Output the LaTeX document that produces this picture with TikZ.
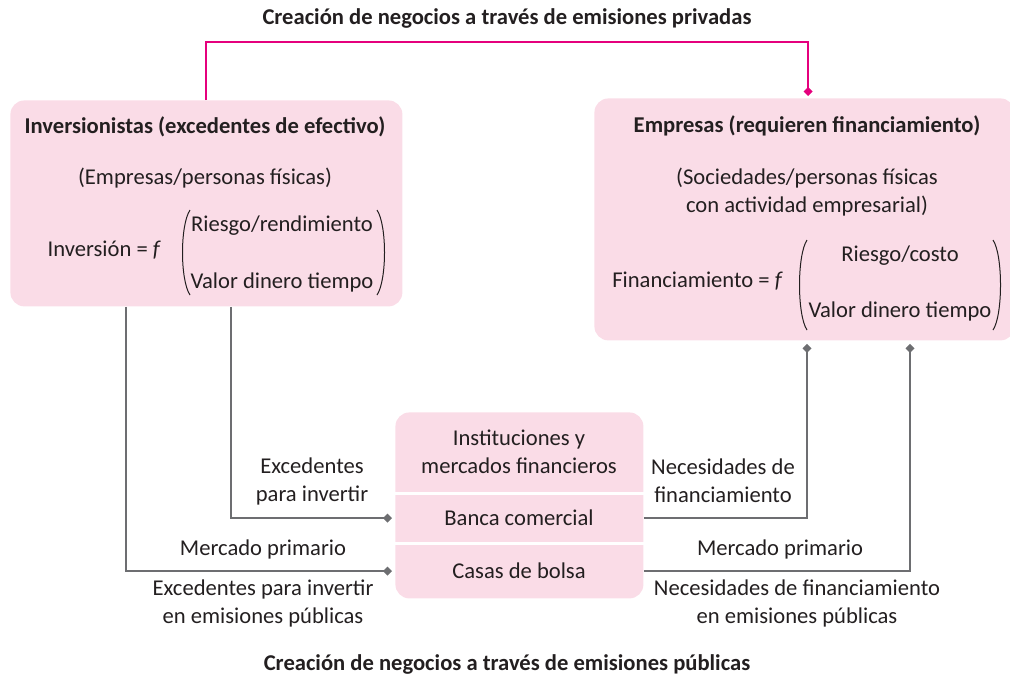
\documentclass[tikz,border=0pt]{standalone}
\usepackage{fontspec}
\setmainfont{Carlito}
\usetikzlibrary{arrows.meta}

\definecolor{rosa}{HTML}{FADCE7}
\definecolor{fucsia}{HTML}{E5007D}
\definecolor{gris}{HTML}{6D6E71}
\definecolor{texto}{HTML}{231F20}

\begin{document}
\begin{tikzpicture}[x=0.5pt, y=-0.5pt, font=\fontsize{11.3}{14}\selectfont, text=texto,
	caja/.style={fill=rosa, rounded corners=7pt, inner sep=0pt},
	negrita/.style={font=\fontsize{11.3}{14}\selectfont\bfseries},
	conector/.style={draw=gris, line width=1pt, -{Turned Square[width=4.5pt,length=4.5pt]}, shorten >=1.5pt},
	privada/.style={draw=fucsia, line width=1pt, -{Turned Square[width=4.5pt,length=4.5pt]}, shorten >=1pt},
	parentesis/.style={draw=texto, line width=0.5pt}]
	\useasboundingbox (0,0) rectangle (1010,677);
	% Cajas:
	\node[caja, anchor=north west, minimum width=196pt, minimum height=103pt] (inv) at (10,100) {};
	\node[caja, anchor=north west, minimum width=210pt, minimum height=121pt] (emp) at (594,98) {};
	\node[caja, anchor=north west, minimum width=124pt, minimum height=93pt] (centro) at (395,412) {};
	\draw[white, line width=1.5pt] (centro.west |- 0,493) -- (centro.east |- 0,493);
	\draw[white, line width=1.5pt] (centro.west |- 0,543) -- (centro.east |- 0,543);
	% Titulos:
	\node[negrita] (tsup) at (507,18) {Creación de negocios a través de emisiones privadas};
	\node[negrita] (tinf) at (507,664) {Creación de negocios a través de emisiones públicas};
	% Inversionistas:
	\node[negrita] (invtit) at (205,127) {Inversionistas (excedentes de efectivo)};
	\node (invsub) at (205,178) {(Empresas/personas físicas)};
	\node[anchor=east] (inveq) at (168,250) {Inversión = \textit{f}};
	\node (riesgo1) at (282,226) {Riesgo/rendimiento};
	\node (valor1) at (282,282) {Valor dinero tiempo};
	\draw[parentesis] (190,210) .. controls (180,225) and (180,280) .. (190,295);
	\draw[parentesis] (377,210) .. controls (387,225) and (387,280) .. (377,295);
	% Empresas:
	\node[negrita] (emptit) at (807,126) {Empresas (requieren financiamiento)};
	\node[align=center] (empsub) at (807,192) {(Sociedades/personas físicas\\con actividad empresarial)};
	\node[anchor=east] (empeq) at (790,281) {Financiamiento = \textit{f}};
	\node (riesgo2) at (900,256) {Riesgo/costo};
	\node (valor2) at (900,311) {Valor dinero tiempo};
	\draw[parentesis] (807,240) .. controls (797,255) and (797,315) .. (807,330);
	\draw[parentesis] (993,240) .. controls (1003,255) and (1003,315) .. (993,330);
	% Instituciones:
	\node[align=center] (instit) at (519,452) {Instituciones y\\mercados financieros};
	\node (banca) at (519,518) {Banca comercial};
	\node (casas) at (519,571) {Casas de bolsa};
	% Etiquetas:
	\node[align=center] (exc) at (312,481) {Excedentes\\para invertir};
	\node (mp1) at (263,549) {Mercado primario};
	\node[align=center] (excpub) at (263,603) {Excedentes para invertir\\en emisiones públicas};
	\node[align=center] (nec) at (723,481) {Necesidades de\\financiamiento};
	\node (mp2) at (780,549) {Mercado primario};
	\node[align=center] (necpub) at (797,603) {Necesidades de financiamiento\\en emisiones públicas};
	% Conectores:
	\coordinate (puente) at (505,42);
	\draw[privada] (inv.north -| 206,0) |- (puente) -| (emp.north -| 808,0);
	\draw[conector] (inv.south -| 126,0) |- (centro.west |- casas);
	\draw[conector] (inv.south -| 231,0) |- (centro.west |- banca);
	\draw[conector] (centro.east |- banca) -| (emp.south -| 807,0);
	\draw[conector] (centro.east |- casas) -| (emp.south -| 910,0);
\end{tikzpicture}
\end{document}
